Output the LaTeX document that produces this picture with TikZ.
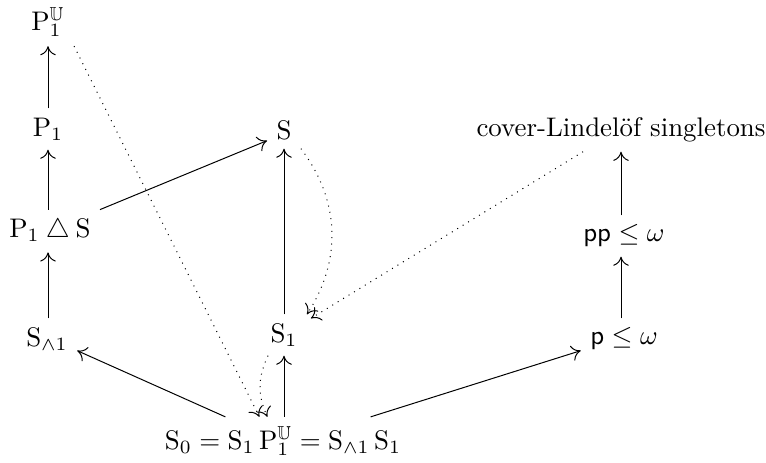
\documentclass[tikz,border=0pt]{standalone}
\usepackage{amssymb}
\usetikzlibrary{calc,arrows.meta}
\begin{document}
\begin{tikzpicture}[x=0.372pt,y=-0.372pt,
  line width=0.37pt,
  >={Computer Modern Rightarrow[length=3.4pt,width=5.8pt]},
  ar/.style={->},
  dt/.style={->,dotted}]
\useasboundingbox (0,0) rectangle (766,462);
\node (pu) at (48,22) {$\mathrm{P}_1^{\mathbb{U}}$};
\node (p1) at (48,129) {$\mathrm{P}_1$};
\node (pts) at (50,231) {$\mathrm{P}_1\mathbin{\triangle}\mathrm{S}$};
\node (sw) at (47,339) {$\mathrm{S}_{\wedge 1}$};
\node (s) at (284,130) {$\mathrm{S}$};
\node (s1) at (284,335) {$\mathrm{S}_1$};
\node (bot) at (283,441) {$\mathrm{S}_0=\mathrm{S}_1\,\mathrm{P}_1^{\mathbb{U}}=\mathrm{S}_{\wedge 1}\,\mathrm{S}_1$};
\node (cov) at (621,130) {cover-Lindel\"of singletons};
\node (pp) at (624,236) {$\mathsf{pp}\leq\omega$};
\node (p) at (624,339) {$\mathsf{p}\leq\omega$};
% solid arrows
\draw[ar] (p1.north -| pu) -- (pu);
\draw[ar] (pts.north -| p1) -- (p1);
\draw[ar] (sw.north -| p1) -- (pts.south -| p1);
\draw[ar] (pts.north east) -- ($(s.south west)+(0,-8)$);
\draw[ar] (s1) -- (s);
\draw[ar] (bot.north -| s1) -- (s1);
\draw[ar] ($(bot.north west)+(70,0)$) -- ($(sw.south east)+(0,-9)$);
\draw[ar] ($(bot.north east)+(-40,0)$) -- ($(p.south west)+(0,-9)$);
\draw[ar] (pp.north -| cov) -- (cov);
\draw[ar] (p.north -| cov) -- (pp.south -| cov);
% dotted arrows
\draw[dt] (pu.south east) -- ($(bot.north west)+(104,0)$);
\draw[dt] ($(s1.south west)+(7,0)$) to[bend right=25] ($(bot.north west)+(112,0)$);
\draw[dt] (s.south east) to[bend left=35] (s1.north east);
\draw[dt] ($(cov.south west)+(116,0)$) -- ($(s1.north east)+(4,4)$);
\end{tikzpicture}
\end{document}
